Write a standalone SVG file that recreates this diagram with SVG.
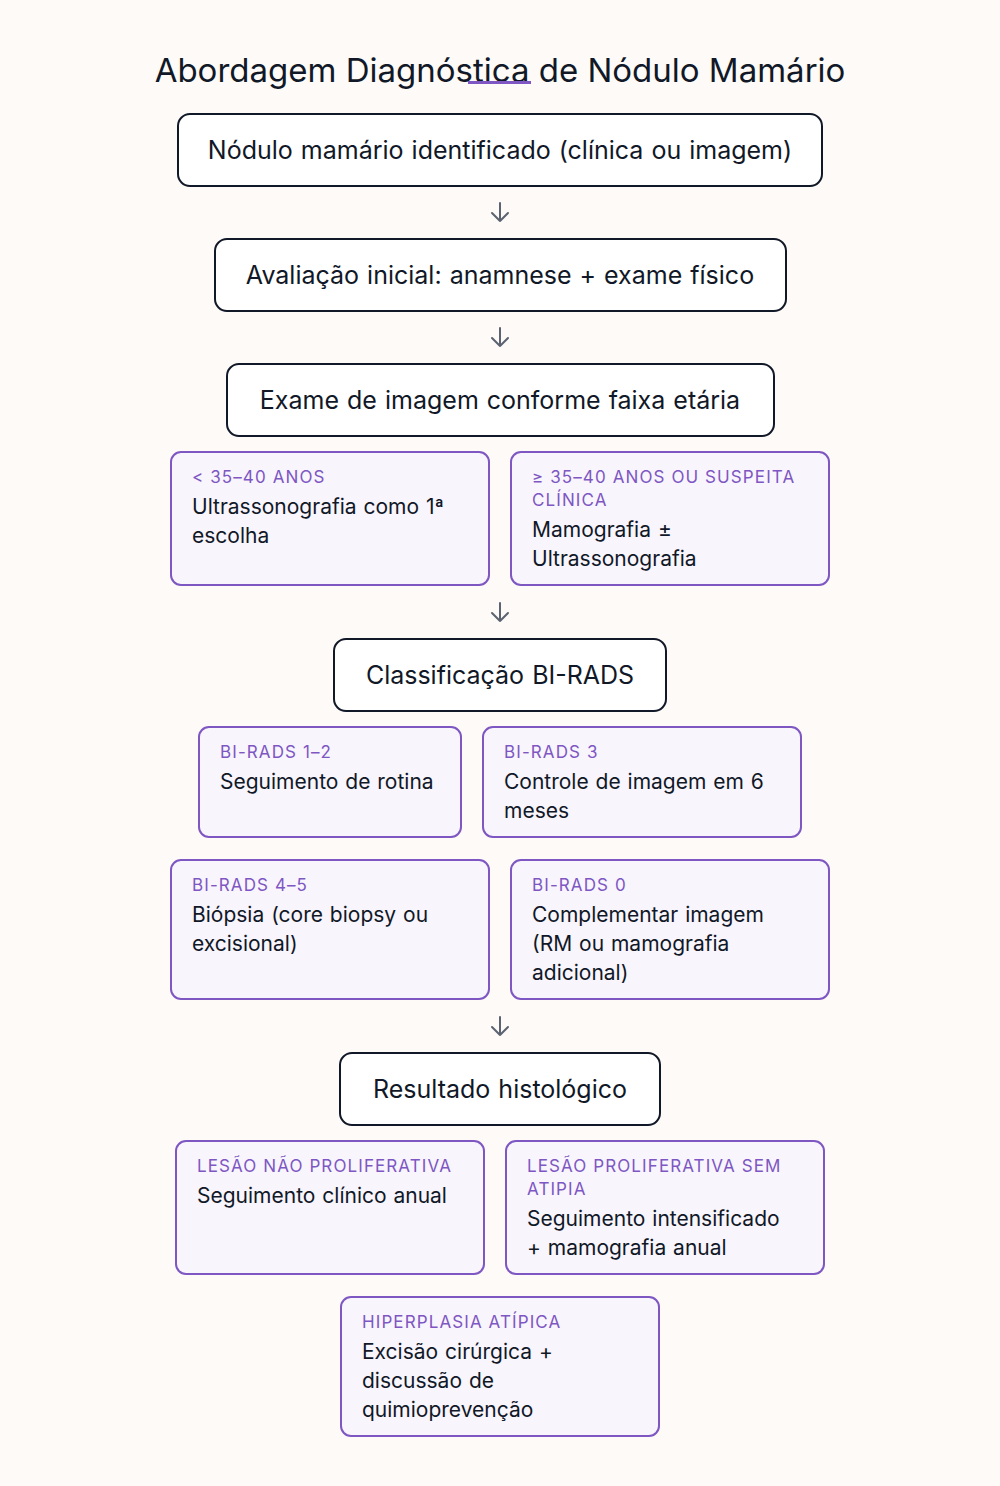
<svg xmlns="http://www.w3.org/2000/svg" width="1000" height="1486" viewBox="0 0 1000 1486">
<style>
text{font-family:Inter,"Noto Sans","Liberation Sans",sans-serif}
.bg{fill:#fdfaf7}
.main rect{fill:#ffffff;stroke:#111827;stroke-width:2}
.main text{font-size:25px;fill:#111827;text-anchor:middle;word-spacing:1px}
.opt rect{fill:#f8f5fd;stroke:#7e57c2;stroke-width:2}
.lab{font-size:17px;fill:#7e57c2;letter-spacing:1.1px}
.body{font-size:21px;fill:#111827;word-spacing:1px}
.arr{fill:none;stroke:#5b6270;stroke-width:2;stroke-linecap:round;stroke-linejoin:round}
.title{font-size:33px;fill:#111827;text-anchor:middle}
</style>
<rect class="bg" x="0" y="0" width="1000" height="1486"/>
<g id="title">
<text class="title" x="500" y="82">Abordagem Diagnóstica de Nódulo Mamário</text>
<rect x="468" y="81" width="63" height="3" fill="#7e57c2"/>
</g>
<g id="connectors">
<path class="arr" d="M500 203V221M492 213L500 221L508 213"/>
<path class="arr" d="M500 328V346M492 338L500 346L508 338"/>
<path class="arr" d="M500 603V621M492 613L500 621L508 613"/>
<path class="arr" d="M500 1017V1035M492 1027L500 1035L508 1027"/>
</g>
<g id="n1" class="main"><rect x="178" y="114" width="644" height="72" rx="12"/><text x="500" y="159">Nódulo mamário identificado (clínica ou imagem)</text></g>
<g id="n2" class="main"><rect x="215" y="239" width="571" height="72" rx="12"/><text x="500" y="284">Avaliação inicial: anamnese + exame físico</text></g>
<g id="n3" class="main"><rect x="227" y="364" width="547" height="72" rx="12"/><text x="500" y="409">Exame de imagem conforme faixa etária</text></g>
<g id="n4" class="opt"><rect x="171" y="452" width="318" height="133" rx="10"/>
<text class="lab" x="192" y="483">&lt; 35–40 ANOS</text>
<text class="body" x="192" y="514">Ultrassonografia como 1ª</text>
<text class="body" x="192" y="543">escolha</text></g>
<g id="n5" class="opt"><rect x="511" y="452" width="318" height="133" rx="10"/>
<text class="lab" x="532" y="483">≥ 35–40 ANOS OU SUSPEITA</text>
<text class="lab" x="532" y="506">CLÍNICA</text>
<text class="body" x="532" y="537">Mamografia ±</text>
<text class="body" x="532" y="566">Ultrassonografia</text></g>
<g id="n6" class="main"><rect x="334" y="639" width="332" height="72" rx="12"/><text x="500" y="684">Classificação BI-RADS</text></g>
<g id="n7" class="opt"><rect x="199" y="727" width="262" height="110" rx="10"/>
<text class="lab" x="220" y="758">BI-RADS 1–2</text>
<text class="body" x="220" y="789">Seguimento de rotina</text></g>
<g id="n8" class="opt"><rect x="483" y="727" width="318" height="110" rx="10"/>
<text class="lab" x="504" y="758">BI-RADS 3</text>
<text class="body" x="504" y="789">Controle de imagem em 6</text>
<text class="body" x="504" y="818">meses</text></g>
<g id="n9" class="opt"><rect x="171" y="860" width="318" height="139" rx="10"/>
<text class="lab" x="192" y="891">BI-RADS 4–5</text>
<text class="body" x="192" y="922">Biópsia (core biopsy ou</text>
<text class="body" x="192" y="951">excisional)</text></g>
<g id="n10" class="opt"><rect x="511" y="860" width="318" height="139" rx="10"/>
<text class="lab" x="532" y="891">BI-RADS 0</text>
<text class="body" x="532" y="922">Complementar imagem</text>
<text class="body" x="532" y="951">(RM ou mamografia</text>
<text class="body" x="532" y="980">adicional)</text></g>
<g id="n11" class="main"><rect x="340" y="1053" width="320" height="72" rx="12"/><text x="500" y="1098">Resultado histológico</text></g>
<g id="n12" class="opt"><rect x="176" y="1141" width="308" height="133" rx="10"/>
<text class="lab" x="197" y="1172">LESÃO NÃO PROLIFERATIVA</text>
<text class="body" x="197" y="1203">Seguimento clínico anual</text></g>
<g id="n13" class="opt"><rect x="506" y="1141" width="318" height="133" rx="10"/>
<text class="lab" x="527" y="1172">LESÃO PROLIFERATIVA SEM</text>
<text class="lab" x="527" y="1195">ATIPIA</text>
<text class="body" x="527" y="1226">Seguimento intensificado</text>
<text class="body" x="527" y="1255">+ mamografia anual</text></g>
<g id="n14" class="opt"><rect x="341" y="1297" width="318" height="139" rx="10"/>
<text class="lab" x="362" y="1328">HIPERPLASIA ATÍPICA</text>
<text class="body" x="362" y="1359">Excisão cirúrgica +</text>
<text class="body" x="362" y="1388">discussão de</text>
<text class="body" x="362" y="1417">quimioprevenção</text></g>
</svg>
